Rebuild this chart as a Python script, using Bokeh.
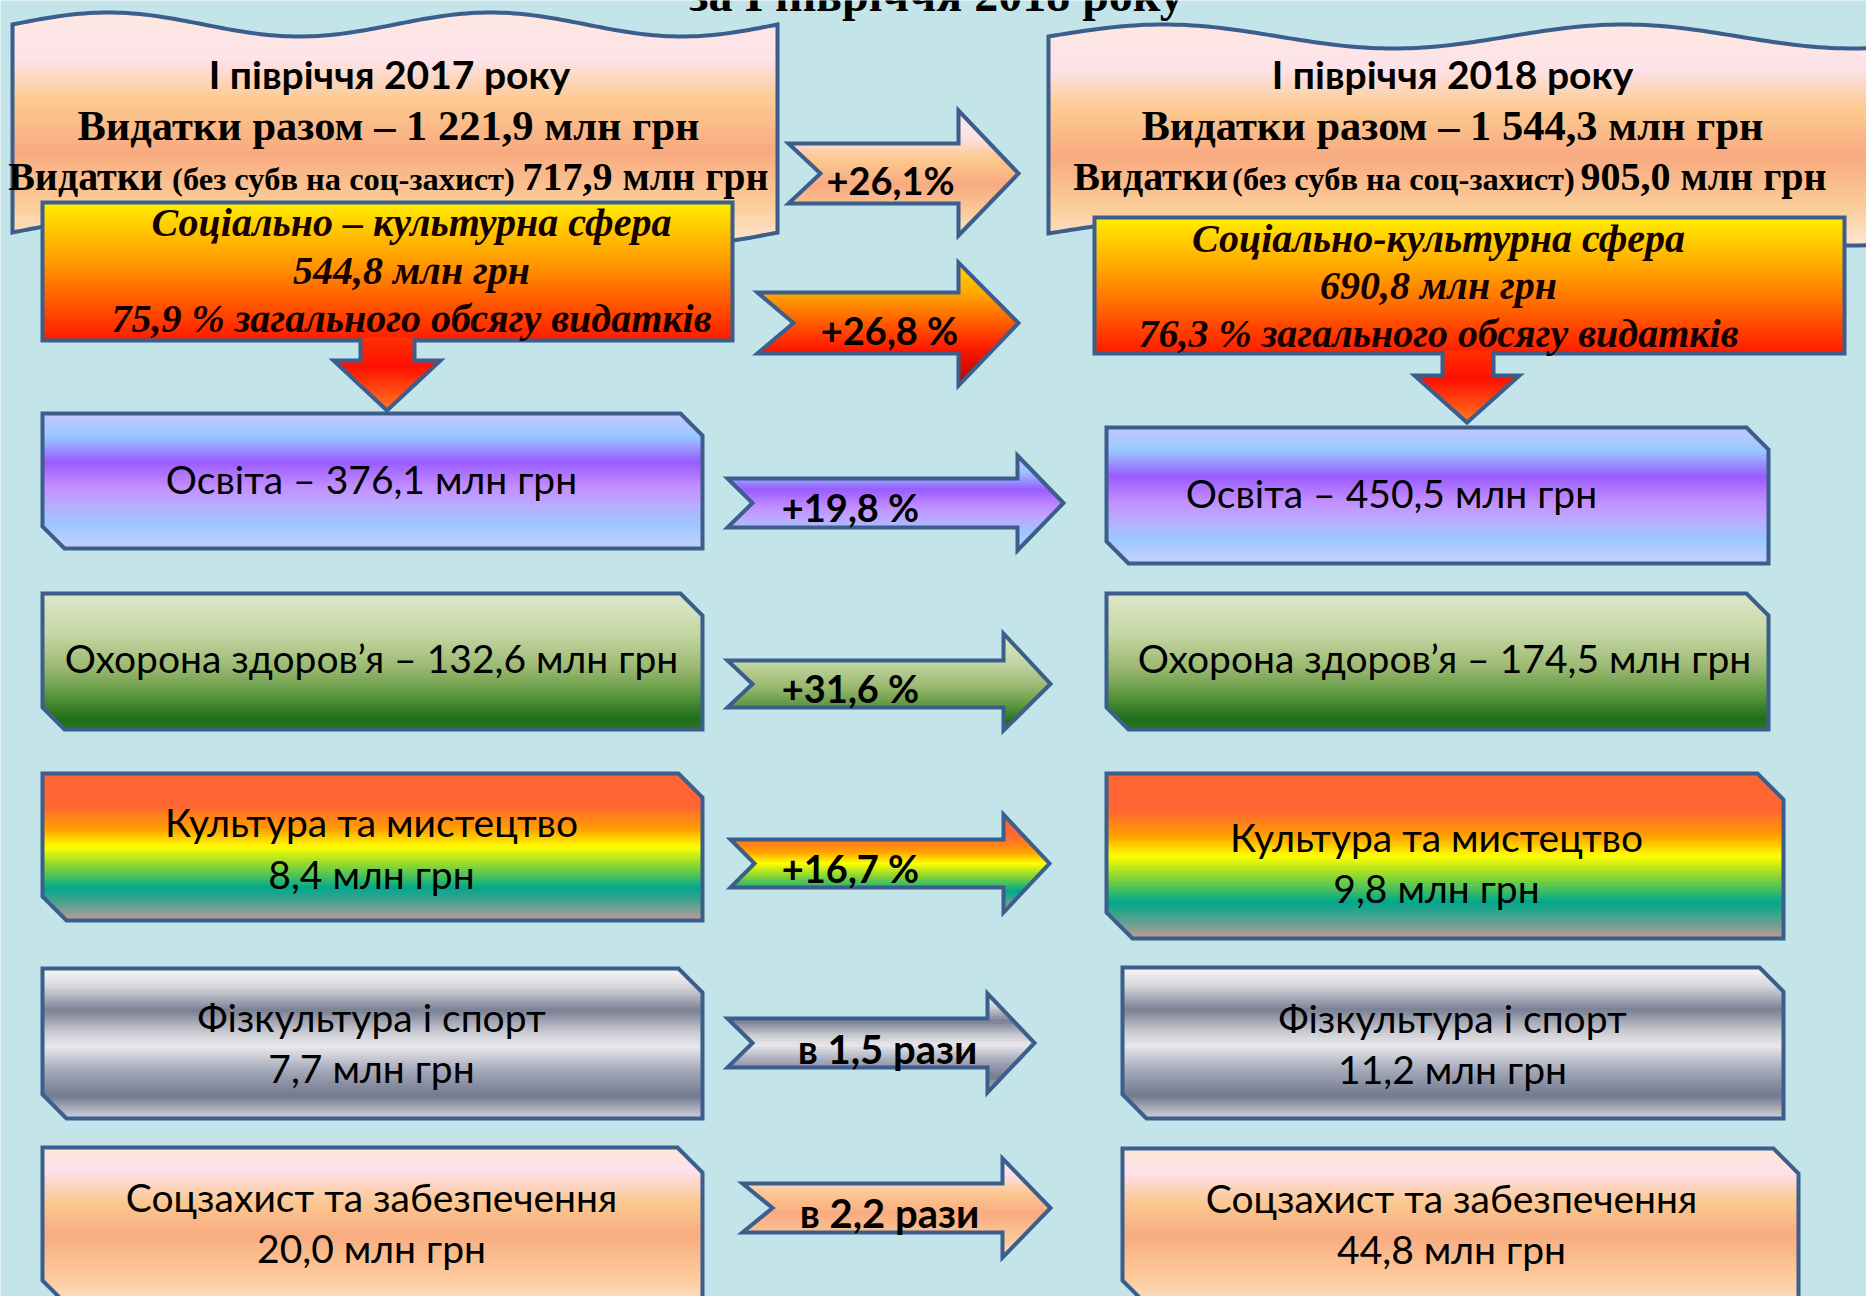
import math
from bokeh.plotting import figure
from bokeh.models import Range1d
from bokeh.core.properties import value
from bokeh.embed import file_html
from bokeh.resources import INLINE

# ---------------- data ----------------
title_text = "за І півріччя 2018 року"
period_labels = ["І півріччя 2017 року", "І півріччя 2018 року"]
total_spending = [1221.9, 1544.3]        # млн грн
spending_no_subv = [717.9, 905.0]        # млн грн
socio_titles = ["Соціально – культурна сфера", "Соціально-культурна сфера"]
socio_values = [544.8, 690.8]
socio_shares = [75.9, 76.3]
total_change = "+26,1%"
socio_change = "+26,8 %"
categories = ["Освіта", "Охорона здоров’я", "Культура та мистецтво",
              "Фізкультура і спорт", "Соцзахист та забезпечення"]
values_2017 = [376.1, 132.6, 8.4, 7.7, 20.0]
values_2018 = [450.5, 174.5, 9.8, 11.2, 44.8]
category_changes = ["+19,8 %", "+31,6 %", "+16,7 %", "в 1,5 рази", "в 2,2 рази"]
unit = "млн грн"


def num(v):
    return f"{v:,.1f}".replace(",", " ").replace(".", ",")


# ---------------- style ----------------
BG = "#c3e5ea"
BORDER = "#3b5e8c"
SANS = value("Lato")
SERIF = value("Liberation Serif")

PEACH = [(0, "#fde8e0"), (0.2, "#fde2ea"), (0.38, "#fcca90"), (0.6, "#f8aa80"),
         (0.82, "#fbcc98"), (1, "#fde6d0")]
FIRE = [(0, "#ffee00"), (0.45, "#ff9600"), (1, "#ff1a00")]
FIRE_ARROW = [(0, "#ffe000"), (0.3, "#ff9800"), (0.7, "#ff1a00"), (1, "#b00000")]
DOWN = [(0, "#ff3000"), (0.4, "#ff1000"), (1, "#ff7a20")]
STYLES = [
    [(0, "#c4c8ff"), (0.17, "#98c8ff"), (0.36, "#9a5cff"), (0.55, "#c290ff"),
     (0.66, "#bca8ff"), (0.82, "#9cc8ff"), (1, "#c8d0ff")],
    [(0, "#dfe8cc"), (0.3, "#c4d6a4"), (0.55, "#9ab870"), (0.75, "#5a963e"),
     (0.92, "#1f6e1a"), (1, "#2a7428")],
    [(0, "#ff6633"), (0.22, "#ff6633"), (0.38, "#ffa000"), (0.5, "#ffff00"),
     (0.62, "#90d830"), (0.78, "#00a88c"), (0.9, "#60a090"), (1, "#c89c98")],
    [(0, "#f8f8f8"), (0.12, "#d8d8dc"), (0.28, "#7a8094"), (0.42, "#c8c8d0"),
     (0.52, "#e8e8ec"), (0.68, "#a4a8b8"), (0.85, "#727a90"), (1, "#d4d4dc")],
    [(0, "#fde8d4"), (0.15, "#fde0ec"), (0.35, "#fcc890"), (0.55, "#f8ac80"),
     (0.8, "#fcc898"), (1, "#fde0c8")],
]

# ---------------- layout (page pixels) ----------------
W, H = 1866, 1296
p = figure(width=W, height=H, x_range=Range1d(0, W), y_range=Range1d(H, 0),
           output_backend="svg", toolbar_location=None, min_border=0,
           x_axis_type=None, y_axis_type=None)
p.grid.visible = False
p.outline_line_color = None
p.background_fill_color = BG
p.border_fill_color = BG


def hex2rgb(h):
    h = h.lstrip("#")
    return tuple(int(h[i:i + 2], 16) for i in (0, 2, 4))


def grad_color(stops, t):
    for (t0, c0), (t1, c1) in zip(stops[:-1], stops[1:]):
        if t <= t1:
            f = 0 if t1 == t0 else (t - t0) / (t1 - t0)
            a, b = hex2rgb(c0), hex2rgb(c1)
            return "#%02x%02x%02x" % tuple(round(a[i] + f * (b[i] - a[i])) for i in range(3))
    return stops[-1][1]


def clip(poly, yc, sign):
    out = []
    n = len(poly)
    for i in range(n):
        cur, prev = poly[i], poly[i - 1]
        cin = sign * (cur[1] - yc) >= 0
        pin = sign * (prev[1] - yc) >= 0
        if cin != pin:
            t = (yc - prev[1]) / (cur[1] - prev[1])
            out.append((prev[0] + t * (cur[0] - prev[0]), yc))
        if cin:
            out.append(cur)
    return out


def shape(poly, stops, outline=True, line_path=None):
    ys = [q[1] for q in poly]
    y0, y1 = min(ys), max(ys)
    n = max(10, int((y1 - y0) / 2.5))
    step = (y1 - y0) / n
    xs_l, ys_l, cols = [], [], []
    for i in range(n):
        ya = y0 + i * step
        yb = min(y1, ya + step + 1.0)
        piece = clip(clip(poly, ya, 1), yb, -1)
        if len(piece) < 3:
            continue
        xs_l.append([q[0] for q in piece])
        ys_l.append([q[1] for q in piece])
        cols.append(grad_color(stops, (i + 0.5) / n))
    p.patches(xs_l, ys_l, fill_color=cols, line_color=None)
    if outline:
        if line_path is None:
            p.patch([q[0] for q in poly], [q[1] for q in poly], fill_color=None,
                    line_color=BORDER, line_width=4, line_join="miter")
        else:
            p.line([q[0] for q in line_path], [q[1] for q in line_path],
                   line_color=BORDER, line_width=4, line_join="miter")


def wave(x0, x1, ytop, height, amp, period, n=160):
    xs = [x0 + (x1 - x0) * i / n for i in range(n + 1)]
    top = [(x, ytop - amp * math.sin(2 * math.pi * (x - x0) / period)) for x in xs]
    bot = [(x, ytop + height - amp * math.sin(2 * math.pi * (x - x0) / period)) for x in reversed(xs)]
    return top + bot


def snip(x0, y0, x1, y1, c):
    return [(x0, y0), (x1 - c, y0), (x1, y0 + c), (x1, y1), (x0 + c, y1), (x0, y1 - c)]


def notched(xl, xn, ys0, ys1, xh, yh0, yh1, xt):
    yc = (ys0 + ys1) / 2
    return [(xl, ys0), (xh, ys0), (xh, yh0), (xt, yc), (xh, yh1), (xh, ys1), (xl, ys1), (xn, yc)]


def down_arrow(xs0, xs1, ytop, yh, xh0, xh1, ytip):
    xm = (xh0 + xh1) / 2
    poly = [(xs0, ytop), (xs1, ytop), (xs1, yh), (xh1, yh), (xm, ytip), (xh0, yh), (xs0, yh)]
    path = [(xs0, ytop), (xs0, yh), (xh0, yh), (xm, ytip), (xh1, yh), (xs1, yh), (xs1, ytop)]
    return poly, path


# banners
banners = [wave(12, 777, 24, 208, 12, 382.5), wave(1048, 1968, 36, 197, 12, 460)]
for b in banners:
    shape(b, PEACH)

# socio-cultural boxes
socio_boxes = [(42, 202, 732, 340), (1094, 217, 1844, 353)]
for (x0, y0, x1, y1) in socio_boxes:
    shape([(x0, y0), (x1, y0), (x1, y1), (x0, y1)], FIRE)

downs = [(360, 414, 337, 360, 333, 440, 410), (1442, 1493, 350, 375, 1414, 1519, 422)]
for d in downs:
    poly, path = down_arrow(*d)
    shape(poly, DOWN, line_path=path)

# category boxes
left_boxes = [(42, 413, 702, 548), (42, 593, 702, 729), (42, 773, 702, 920),
              (42, 968, 702, 1118), (42, 1147, 702, 1305)]
right_boxes = [(1106, 427, 1768, 563), (1106, 593, 1768, 729), (1106, 773, 1783, 938),
               (1122, 967, 1783, 1118), (1122, 1148, 1798, 1305)]
for i in range(5):
    for (x0, y0, x1, y1) in (left_boxes[i], right_boxes[i]):
        c = min(26, round(0.16 * (y1 - y0)))
        shape(snip(x0, y0, x1, y1, c), STYLES[i])

# comparison arrows
arrow_geo = [(788, 820, 143, 203, 958, 110, 235, 1018),
             (757, 793, 292, 353, 958, 262, 385, 1018),
             (727, 752, 478, 527, 1017, 455, 550, 1063),
             (727, 752, 660, 707, 1003, 633, 730, 1050),
             (730, 754, 839, 887, 1003, 814, 912, 1049),
             (727, 752, 1018, 1067, 987, 993, 1092, 1034),
             (742, 772, 1183, 1232, 1002, 1158, 1257, 1050)]
arrow_styles = [PEACH, FIRE_ARROW] + STYLES
for g, st in zip(arrow_geo, arrow_styles):
    shape(notched(*g), st)

# ---------------- texts (y = visual centre) ----------------
def txt(xs, ys, texts, font, size, style="normal", color="black"):
    p.text(xs, ys, text=texts, text_font=font, text_font_style=style,
           text_font_size=size, text_align="center", text_baseline="middle", text_color=color)


# title, partly cut by the top edge as in the original
txt([936], [-6], [title_text], SERIF, "48px", "bold")

# banners
txt([389, 1452], [73, 73], period_labels, SANS, "39px", "bold")
txt([388, 1452], [125, 125], [f"Видатки разом – {num(v)} {unit}" for v in total_spending],
    SERIF, "42.5px", "bold")
txt([85, 1150], [176, 176], ["Видатки", "Видатки"], SERIF, "40px", "bold")
txt([343, 1403], [178, 178], ["(без субв на соц-захист)"] * 2, SERIF, "32.5px", "bold")
txt([645, 1703], [176, 176], [f"{num(v)} {unit}" for v in spending_no_subv], SERIF, "40px", "bold")

# socio-cultural texts
socio_x = [411, 1438]
socio_y = [[222, 270, 318], [238, 285, 333]]
for k in range(2):
    lines = [socio_titles[k], f"{num(socio_values[k])} {unit}",
             f"{num(socio_shares[k])} % загального обсягу видатків"]
    txt([socio_x[k]] * 3, socio_y[k], lines, SERIF, "40px", "bold italic", "#140000")

# category texts
left_tx = [371] * 5
right_tx = [1391, 1444, 1436, 1452, 1451]
left_y = [[478], [657], [821, 873], [1016, 1067], [1196, 1247]]
right_y = [[492], [657], [836, 887], [1017, 1068], [1197, 1248]]
tx, ty, tt = [], [], []
for i in range(5):
    for xc, yy, v in ((left_tx[i], left_y[i], values_2017[i]),
                      (right_tx[i], right_y[i], values_2018[i])):
        if len(yy) == 1:
            lines = [f"{categories[i]} – {num(v)} {unit}"]
        else:
            lines = [categories[i], f"{num(v)} {unit}"]
        for y, s in zip(yy, lines):
            tx.append(xc)
            ty.append(y)
            tt.append(s)
txt(tx, ty, tt, SANS, "39px")

# arrow labels
arrow_labels = [total_change, socio_change] + category_changes
label_x = [890, 889, 850, 850, 850, 887, 889]
label_y = [179, 329, 506, 687, 867, 1048, 1212]
txt(label_x[:5], label_y[:5], arrow_labels[:5], SANS, "38px", "bold")
txt(label_x[5:], label_y[5:], arrow_labels[5:], SANS, "40px", "bold")

open("out.html", "w").write(file_html(p, INLINE))
